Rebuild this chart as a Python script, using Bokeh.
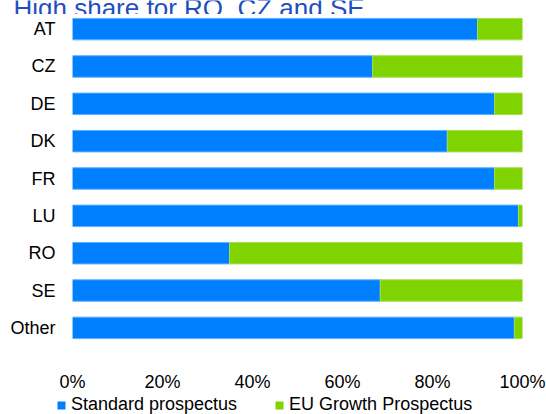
from bokeh.plotting import figure
from bokeh.layouts import column
from bokeh.models import (Range1d, FixedTicker, PrintfTickFormatter, Legend, LegendItem,
                          Label, ColumnDataSource, GlobalInlineStyleSheet)
from bokeh.embed import file_html
from bokeh.resources import INLINE

countries = ["AT", "CZ", "DE", "DK", "FR", "LU", "RO", "SE", "Other"]
standard = [90.0, 66.7, 93.8, 83.3, 93.8, 99.1, 34.9, 68.4, 98.2]
growth = [10.0, 33.3, 6.2, 16.7, 6.2, 0.9, 65.1, 31.6, 1.8]
series = ["Standard prospectus", "EU Growth Prospectus"]
ticks = [0, 20, 40, 60, 80, 100]
title_text = "High share for RO, CZ and SE"

colors = ["#007FFF", "#7FD300"]
edge_colors = ["#5FAFFF", "#A2E04A"]
FONT = "Liberation Sans"
W = 546

ypos = list(range(len(countries)))
src = ColumnDataSource(dict(y=ypos, s=standard, g=growth))

# ---- title strip (top is cut by the page edge, as in the reference) ----
tf = figure(width=W, height=14, output_backend="svg", toolbar_location=None,
            x_axis_type=None, y_axis_type=None,
            x_range=Range1d(0, W), y_range=Range1d(14, 0),
            min_border=0, frame_align=False)
tf.outline_line_color = None
tf.add_layout(Label(x=13, y=7, text=title_text, text_font=FONT, text_font_size="26px",
                    text_color="#1F4FBF", text_baseline="alphabetic"))

# ---- main chart ----
p = figure(width=W, height=380, output_backend="svg", toolbar_location=None,
           x_range=Range1d(0, 100), y_range=Range1d(8.392, -0.392),
           min_border_left=72, min_border_right=24, min_border_top=0, min_border_bottom=44,
           frame_align=False)
p.outline_line_color = None
p.xgrid.grid_line_color = None
p.ygrid.grid_line_color = None

renderers = p.hbar_stack(["s", "g"], y="y", height=0.575, fill_color=colors,
                         line_color=edge_colors, line_width=1, source=src)

p.xaxis.ticker = FixedTicker(ticks=ticks)
p.xaxis.formatter = PrintfTickFormatter(format="%d%%")
p.yaxis.ticker = FixedTicker(ticks=ypos)
p.yaxis.major_label_overrides = {i: c for i, c in zip(ypos, countries)}
for ax in (p.xaxis[0], p.yaxis[0]):
    ax.axis_line_color = None
    ax.major_tick_line_color = None
    ax.minor_tick_line_color = None
    ax.major_label_text_font = FONT
    ax.major_label_text_font_size = "18px"
    ax.major_label_text_color = "#000000"
p.xaxis.major_label_standoff = 23
p.yaxis.major_label_standoff = 11

# ---- legend strip (its stacked bars lie outside the strip's visible range) ----
lf = figure(width=W, height=20, output_backend="svg", toolbar_location=None,
            x_axis_type=None, y_axis_type=None,
            x_range=Range1d(0, 100), y_range=Range1d(100, 101), min_border=0,
            frame_align=False)
lf.outline_line_color = None
leg_r = lf.hbar_stack(["s", "g"], y="y", height=0.5, fill_color=colors,
                      line_color=None, source=src)
legend = Legend(items=[LegendItem(label=series[i], renderers=[leg_r[i]]) for i in range(2)],
                orientation="horizontal", location=(56, -1),
                border_line_color=None, background_fill_alpha=0,
                padding=0, margin=0, spacing=37, label_standoff=5,
                glyph_width=10, glyph_height=10,
                label_text_font=FONT, label_text_font_size="18px", label_text_color="#000000")
lf.add_layout(legend)

layout = column(tf, p, lf, spacing=0)
layout.stylesheets = [GlobalInlineStyleSheet(css="body { margin: 0; }")]

open("out.html", "w").write(file_html(layout, INLINE))
